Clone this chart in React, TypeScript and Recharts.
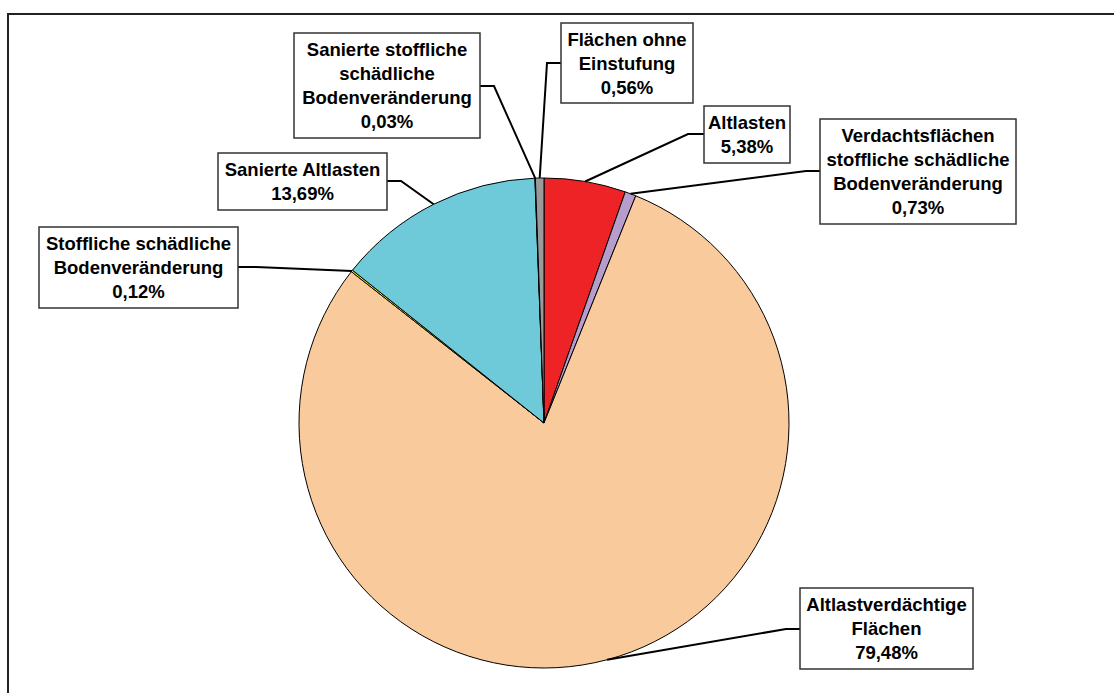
import { Cell, Pie, PieChart } from 'recharts';

// Flächenkategorien, clockwise from 12 o'clock
const categories = [
  'Altlasten',
  'Verdachtsflächen\nstoffliche schädliche\nBodenveränderung',
  'Altlastverdächtige\nFlächen',
  'Stoffliche schädliche\nBodenveränderung',
  'Sanierte Altlasten',
  'Sanierte stoffliche\nschädliche\nBodenveränderung',
  'Flächen ohne\nEinstufung',
];
const shares = [5.38, 0.73, 79.48, 0.12, 13.69, 0.03, 0.56];
const colors = ['#EE2325', '#B79DCC', '#F9CA9B', '#F3E92C', '#6ECAD8', '#7A9DB8', '#9A9A9A'];

// label boxes: position, size, the side the leader leaves from and its elbow
const boxes = [
  { x: 704, y: 106, w: 86, h: 57, ly: 134, ex: 688 },
  { x: 820, y: 119, w: 196, h: 105, ly: 171, ex: 806 },
  { x: 800, y: 588, w: 173, h: 81, ly: 629, ex: 786 },
  { x: 39, y: 227, w: 199, h: 81, ly: 267, ex: 256 },
  { x: 218, y: 153, w: 169, h: 57, ly: 181, ex: 401 },
  { x: 294, y: 33, w: 186, h: 105, ly: 86, ex: 494 },
  { x: 561, y: 23, w: 132, h: 80, ly: 63, ex: 547 },
];

const data = categories.map((name, i) => ({ name, value: shares[i] }));

const RAD = Math.PI / 180;
const LINE_H = 24;

function BoxLabel(props: any) {
  const { cx, cy, midAngle, outerRadius, index, value } = props;
  const b = boxes[index];
  const px = cx + outerRadius * Math.cos(-midAngle * RAD);
  const py = cy + outerRadius * Math.sin(-midAngle * RAD);
  const side = b.ex < b.x ? b.x : b.x + b.w;
  const lines = [...categories[index].split('\n'), value.toFixed(2).replace('.', ',') + '%'];
  const midY = b.y + b.h / 2;
  return (
    <g>
      <polyline
        points={`${px},${py} ${b.ex},${b.ly} ${side},${b.ly}`}
        fill="none"
        stroke="#000"
        strokeWidth={2}
      />
      <rect x={b.x} y={b.y} width={b.w} height={b.h} fill="#fff" stroke="#333" strokeWidth={1.5} />
      {lines.map((t, i) => (
        <text
          key={i}
          x={b.x + b.w / 2}
          y={midY + (i - (lines.length - 1) / 2) * LINE_H + 6.5}
          textAnchor="middle"
          fontFamily="'Liberation Sans', Arial, sans-serif"
          fontWeight="bold"
          fontSize={18.5}
          fill="#000"
        >
          {t}
        </text>
      ))}
    </g>
  );
}

export default function App() {
  return (
    <div style={{ position: 'absolute', left: 0, top: 0, width: 1114, height: 693, background: '#fff', overflow: 'hidden' }}>
      <div
        style={{
          position: 'absolute',
          left: 7,
          top: 13,
          width: 1200,
          height: 800,
          borderLeft: '2px solid #222',
          borderTop: '2px solid #222',
        }}
      />
      <div style={{ position: 'absolute', left: 0, top: 0 }}>
        <PieChart width={1114} height={693} margin={{ top: 0, right: 0, bottom: 0, left: 0 }}>
          <Pie
            data={data}
            dataKey="value"
            nameKey="name"
            cx={544}
            cy={423}
            outerRadius={245}
            startAngle={90}
            endAngle={-270}
            stroke="#000"
            strokeWidth={1}
            labelLine={false}
            label={BoxLabel}
            isAnimationActive={false}
          >
            {data.map((d, i) => (
              <Cell key={d.name} fill={colors[i]} />
            ))}
          </Pie>
        </PieChart>
      </div>
    </div>
  );
}
